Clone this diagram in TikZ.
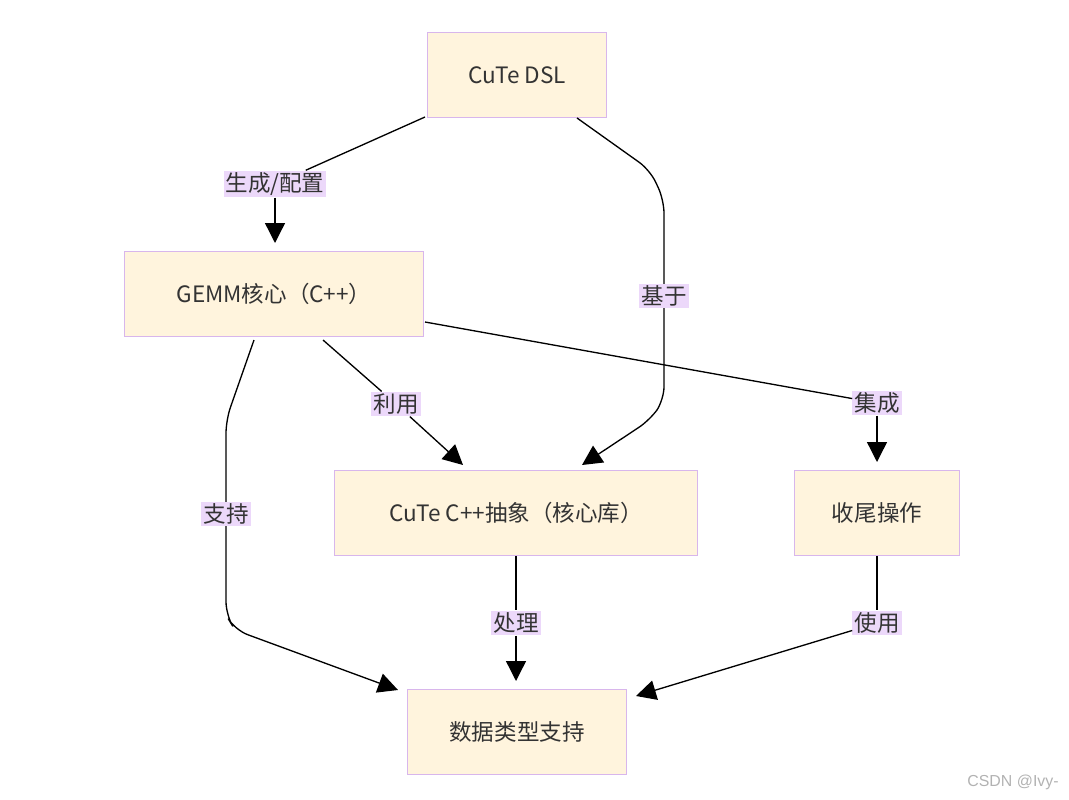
\documentclass[tikz,border=0pt]{standalone}
\usepackage{fontspec}
\setmainfont{Liberation Sans}
\newfontfamily\cjk{Noto Sans CJK SC}
\usetikzlibrary{arrows.meta}
\definecolor{boxfill}{RGB}{255,244,221}
\definecolor{boxline}{RGB}{216,182,236}
\definecolor{labelfill}{RGB}{236,216,250}
\definecolor{txt}{RGB}{51,51,51}
\tikzset{
  box/.style={shape=rectangle,draw=boxline,fill=boxfill,line width=0.8pt,text=txt,font=\cjk\fontsize{17}{19}\selectfont,minimum height=64pt},
  lbl/.style={fill=labelfill,inner sep=1.5pt,text=txt,font=\cjk\fontsize{17}{19}\selectfont},
  edge/.style={line width=1pt,rounded corners=10pt,-{Triangle[length=15pt,width=15pt]}}
}
\begin{document}
\begin{tikzpicture}[x=0.0265cm,y=-0.0265cm]
\useasboundingbox (0,0) rectangle (1069,799);
\node[box,minimum width=135pt] (dsl) at (517,75) {CuTe DSL};
\node[box,minimum width=225pt] (gemm) at (274,294) {GEMM核心（C++）};
\node[box,minimum width=274pt] (cpp) at (516,513) {CuTe C++抽象（核心库）};
\node[box,minimum width=125pt] (epi) at (877,513) {收尾操作};
\node[box,minimum width=165pt] (dtype) at (517,732) {数据类型支持};

\node[lbl] (l1) at (275,184) {生成/配置};
\node[lbl] (l2) at (664,296) {基于};
\node[lbl] (l3) at (396,404) {利用};
\node[lbl] (l4) at (877,403) {集成};
\node[lbl] (l5) at (226,514) {支持};
\node[lbl] (l6) at (516,623) {处理};
\node[lbl] (l7) at (877,623) {使用};

\draw[line width=1pt] (425,117) -- (l1);
\draw[edge] (l1) -- (275,243);
\draw[edge] (577,118) -- (650,170) -- (664,200) -- (664,400) -- (650,420) -- (582,465);
\draw[line width=1pt] (323,340) -- (l3);
\draw[edge] (l3) -- (463,465);
\draw[line width=1pt] (425,322) -- (l4);
\draw[edge] (l4) -- (877,462);
\draw[edge] (254,340) -- (226,420) -- (226,615) -- (235,630) -- (398,690);
\node[lbl] at (l5) {支持};
\node[lbl] at (l2) {基于};
\draw[line width=1pt] (cpp) -- (l6);
\draw[edge] (l6) -- (516,681);
\draw[line width=1pt] (epi) -- (l7);
\draw[edge] (l7) -- (636,696);

\node[text=gray!60,font=\fontsize{12}{14}\selectfont] (wm) at (1013,782) {CSDN @Ivy-};
\end{tikzpicture}
\end{document}
